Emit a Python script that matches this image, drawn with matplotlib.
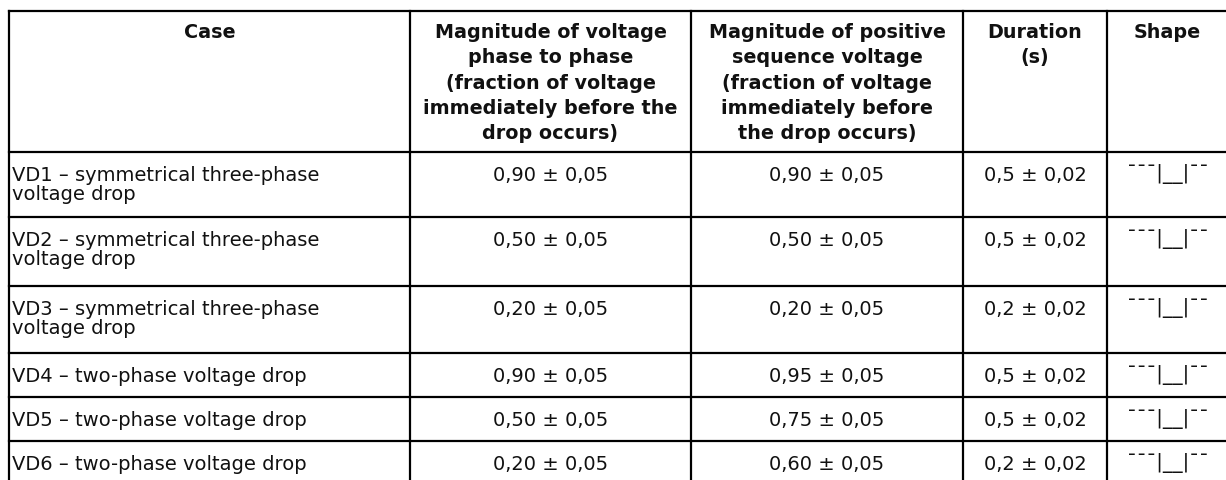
'''voltage drop test cases table'''

import matplotlib.pyplot as plt

# table content
HEADERS = ['Case',
           'Magnitude of voltage\nphase to phase\n(fraction of voltage\nimmediately before the\ndrop occurs)',
           'Magnitude of positive\nsequence voltage\n(fraction of voltage\nimmediately before\nthe drop occurs)',
           'Duration\n(s)',
           'Shape']
CASES = ['VD1 – symmetrical three-phase\nvoltage drop',
         'VD2 – symmetrical three-phase\nvoltage drop',
         'VD3 – symmetrical three-phase\nvoltage drop',
         'VD4 – two-phase voltage drop',
         'VD5 – two-phase voltage drop',
         'VD6 – two-phase voltage drop']
PHASE_TO_PHASE = ['0,90 ± 0,05', '0,50 ± 0,05', '0,20 ± 0,05',
                  '0,90 ± 0,05', '0,50 ± 0,05', '0,20 ± 0,05']
POSITIVE_SEQ = ['0,90 ± 0,05', '0,50 ± 0,05', '0,20 ± 0,05',
                '0,95 ± 0,05', '0,75 ± 0,05', '0,60 ± 0,05']
DURATIONS = ['0,5 ± 0,02', '0,5 ± 0,02', '0,2 ± 0,02',
             '0,5 ± 0,02', '0,5 ± 0,02', '0,2 ± 0,02']
SHAPE = '¯¯¯|__|¯¯'

# layout in pixels
COL_EDGES = [9, 410, 691, 963, 1107, 1228]
ROW_EDGES = [11, 152, 217, 286, 353, 397, 441, 486]
W, H = 1226, 480


def main():
    '''draw the table'''
    fig = plt.figure(figsize=(W / 100, H / 100), dpi=100)
    ax = fig.add_axes([0, 0, 1, 1])
    ax.set_xlim(0, W)
    ax.set_ylim(H, 0)
    ax.axis('off')

    # grid lines
    for y in ROW_EDGES:
        ax.plot([COL_EDGES[0], COL_EDGES[-1]], [y, y], color='black', lw=1.6,
                solid_capstyle='projecting')
    for x in COL_EDGES:
        ax.plot([x, x], [ROW_EDGES[0], ROW_EDGES[-1]], color='black', lw=1.6,
                solid_capstyle='projecting')

    centers = [(a + b) / 2 for a, b in zip(COL_EDGES[:-1], COL_EDGES[1:])]

    # header
    for i, head in enumerate(HEADERS):
        ax.text(centers[i], ROW_EDGES[0] + 12, head, ha='center', va='top',
                fontsize=13.8, fontweight='bold', linespacing=1.42, color='#111111')

    # body rows
    for r in range(len(CASES)):
        top = ROW_EDGES[r + 1] + 14
        ax.text(COL_EDGES[0] + 3, top, CASES[r], ha='left', va='top',
                fontsize=14, linespacing=1.02, color='#111111')
        ax.text(centers[1], top, PHASE_TO_PHASE[r], ha='center', va='top',
                fontsize=14, color='#111111')
        ax.text(centers[2], top, POSITIVE_SEQ[r], ha='center', va='top',
                fontsize=14, color='#111111')
        ax.text(centers[3], top, DURATIONS[r], ha='center', va='top',
                fontsize=14, color='#111111')
        ax.text(centers[4], top - 2, SHAPE, ha='center', va='top',
                fontsize=14, color='#111111')

    fig.savefig('out.png', dpi=100)


if __name__ == '__main__':
    main()
